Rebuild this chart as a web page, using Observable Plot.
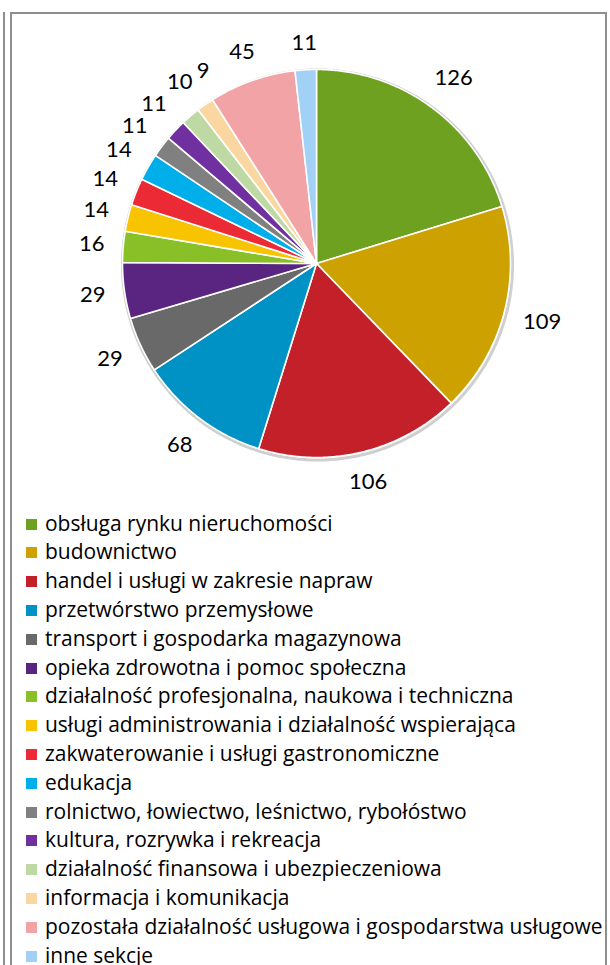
<!DOCTYPE html>
<html><head><meta charset="utf-8">
<script src="https://cdn.jsdelivr.net/npm/d3@7"></script>
<script src="https://cdn.jsdelivr.net/npm/@observablehq/plot@0.6"></script>
<style>
html,body{margin:0;padding:0;background:#fff;}
body{width:610px;height:965px;overflow:hidden;position:relative;font-family:"Open Sans",Lato,sans-serif;}
.ln{position:absolute;background:#8e8e8e;}
#chart{position:absolute;left:0;top:0;}
#legend{position:absolute;left:0;top:509.6px;width:610px;}
.row{height:28.8px;display:flex;align-items:center;position:relative;}
.sw{position:absolute;left:26px;width:11px;height:11px;top:9px;}
.tx{position:absolute;left:45px;color:#000;white-space:nowrap;line-height:28.8px;top:-1px;font-family:"Open Sans";}
</style></head><body>
<div class="ln" style="left:3px;top:12px;width:2px;height:953px"></div>
<div class="ln" style="left:10px;top:12px;width:2px;height:953px"></div>
<div class="ln" style="left:10px;top:12px;width:597px;height:2px"></div>
<div class="ln" style="left:605px;top:12px;width:2px;height:953px"></div>
<div id="chart"></div>
<div id="legend"></div>
<script>
const categories = [
  "obsługa rynku nieruchomości",
  "budownictwo",
  "handel i usługi w zakresie napraw",
  "przetwórstwo przemysłowe",
  "transport i gospodarka magazynowa",
  "opieka zdrowotna i pomoc społeczna",
  "działalność profesjonalna, naukowa i techniczna",
  "usługi administrowania i działalność wspierająca",
  "zakwaterowanie i usługi gastronomiczne",
  "edukacja",
  "rolnictwo, łowiectwo, leśnictwo, rybołóstwo",
  "kultura, rozrywka i rekreacja",
  "działalność finansowa i ubezpieczeniowa",
  "informacja i komunikacja",
  "pozostała działalność usługowa i gospodarstwa usługowe",
  "inne sekcje"
];
const values = [126, 109, 106, 68, 29, 29, 16, 14, 14, 14, 11, 11, 10, 9, 45, 11];
const colors = [
  "#6fa121", "#cda100", "#c3202a", "#0092c5", "#696969", "#5a2580",
  "#89c028", "#f8c300", "#ec2a35", "#00aeea", "#808080", "#7030a0",
  "#bfd9a5", "#fad7a0", "#f2a3a6", "#a3d0f5"
];

// layout (pixels)
const W = 610, H = 505, CX = 316, CY = 263, R = 194, LABEL_DIST = 212;

const total = d3.sum(values);
const slices = [];
let acc = 0;
categories.forEach((name, i) => {
  const a0 = acc / total * 2 * Math.PI;
  acc += values[i];
  const a1 = acc / total * 2 * Math.PI;
  slices.push({name, value: values[i], a0, a1, mid: (a0 + a1) / 2});
});

// polygon points for each slice (unit radius, clockwise from top)
const pts = [];
for (const s of slices) {
  pts.push({name: s.name, x: 0, y: 0});
  const n = Math.max(2, Math.ceil((s.a1 - s.a0) / (Math.PI / 360)));
  for (let k = 0; k <= n; k++) {
    const a = s.a0 + (s.a1 - s.a0) * k / n;
    pts.push({name: s.name, x: Math.sin(a), y: Math.cos(a)});
  }
  pts.push({name: s.name, x: 0, y: 0});
}
const ring = d3.range(0, 361, 1).map(d => ({x: Math.sin(d * Math.PI / 180) * (R + 1) / R, y: Math.cos(d * Math.PI / 180) * (R + 1) / R}));

// label positions: box just outside the circle along the angle
function place(angle, hw, hh) {
  const ux = Math.sin(angle), uy = Math.cos(angle);
  let lo = 0, hi = 400;
  for (let it = 0; it < 50; it++) {
    const t = (lo + hi) / 2;
    const dx = Math.max(Math.abs(ux * t) - hw, 0), dy = Math.max(Math.abs(uy * t) - hh, 0);
    if (Math.hypot(dx, dy) < LABEL_DIST) lo = t; else hi = t;
  }
  return [ux * lo, uy * lo];
}
const boxes = [];
const labels = slices.map((s, i) => {
  const nd = String(s.value).length;
  const hw = nd * 6.5, hh = 9;
  const cw = nd * 6.5 + 1.5, ch = 10.5; // collision half-sizes
  let ang = s.mid, p = place(ang, hw, hh);
  const prev = boxes[i - 1];
  if (prev) {
    let guard = 0;
    while (Math.abs(p[0] - prev.x) < cw + prev.cw && Math.abs(p[1] - prev.y) < ch + prev.ch && guard++ < 80) {
      ang += Math.PI / 360;
      p = place(ang, hw, hh);
    }
  }
  boxes.push({x: p[0], y: p[1], cw, ch});
  return {text: String(s.value), x: p[0] / R, y: p[1] / R};
});

const chart = Plot.plot({
  width: W, height: H, margin: 0,
  x: {domain: [-CX / R, (W - CX) / R], range: [0, W], axis: null},
  y: {domain: [(CY - H) / R, CY / R], range: [H, 0], axis: null},
  color: {type: "ordinal", domain: categories, range: colors},
  style: {background: "transparent", overflow: "visible"},
  marks: [
    Plot.line(ring, {x: "x", y: "y", stroke: "#cfcfcf", strokeWidth: 3, dx: 1, dy: 1.5}),
    Plot.line(pts, {x: "x", y: "y", z: "name", fill: "name", stroke: "white", strokeWidth: 1.6, curve: "linear-closed", strokeLinejoin: "round"}),
    Plot.text(labels, {x: "x", y: "y", text: "text", fontSize: 22, fill: "#000", textAnchor: "middle", lineAnchor: "middle", fontFamily: "Lato"})
  ]
});
document.getElementById("chart").appendChild(chart);

// legend font size fitted so the longest entry spans like the reference
const ctx = document.createElement("canvas").getContext("2d");
ctx.font = "20px 'Open Sans'";
const longest = d3.max(categories, c => ctx.measureText(c).width);
const fs = Math.min(21, 20 * 558 / longest);

const leg = document.getElementById("legend");
categories.forEach((c, i) => {
  const row = document.createElement("div");
  row.className = "row";
  const sw = document.createElement("div");
  sw.className = "sw";
  sw.style.background = colors[i];
  const tx = document.createElement("div");
  tx.className = "tx";
  tx.style.fontSize = fs + "px";
  tx.textContent = c;
  row.appendChild(sw); row.appendChild(tx);
  leg.appendChild(row);
});
</script>
</body></html>
